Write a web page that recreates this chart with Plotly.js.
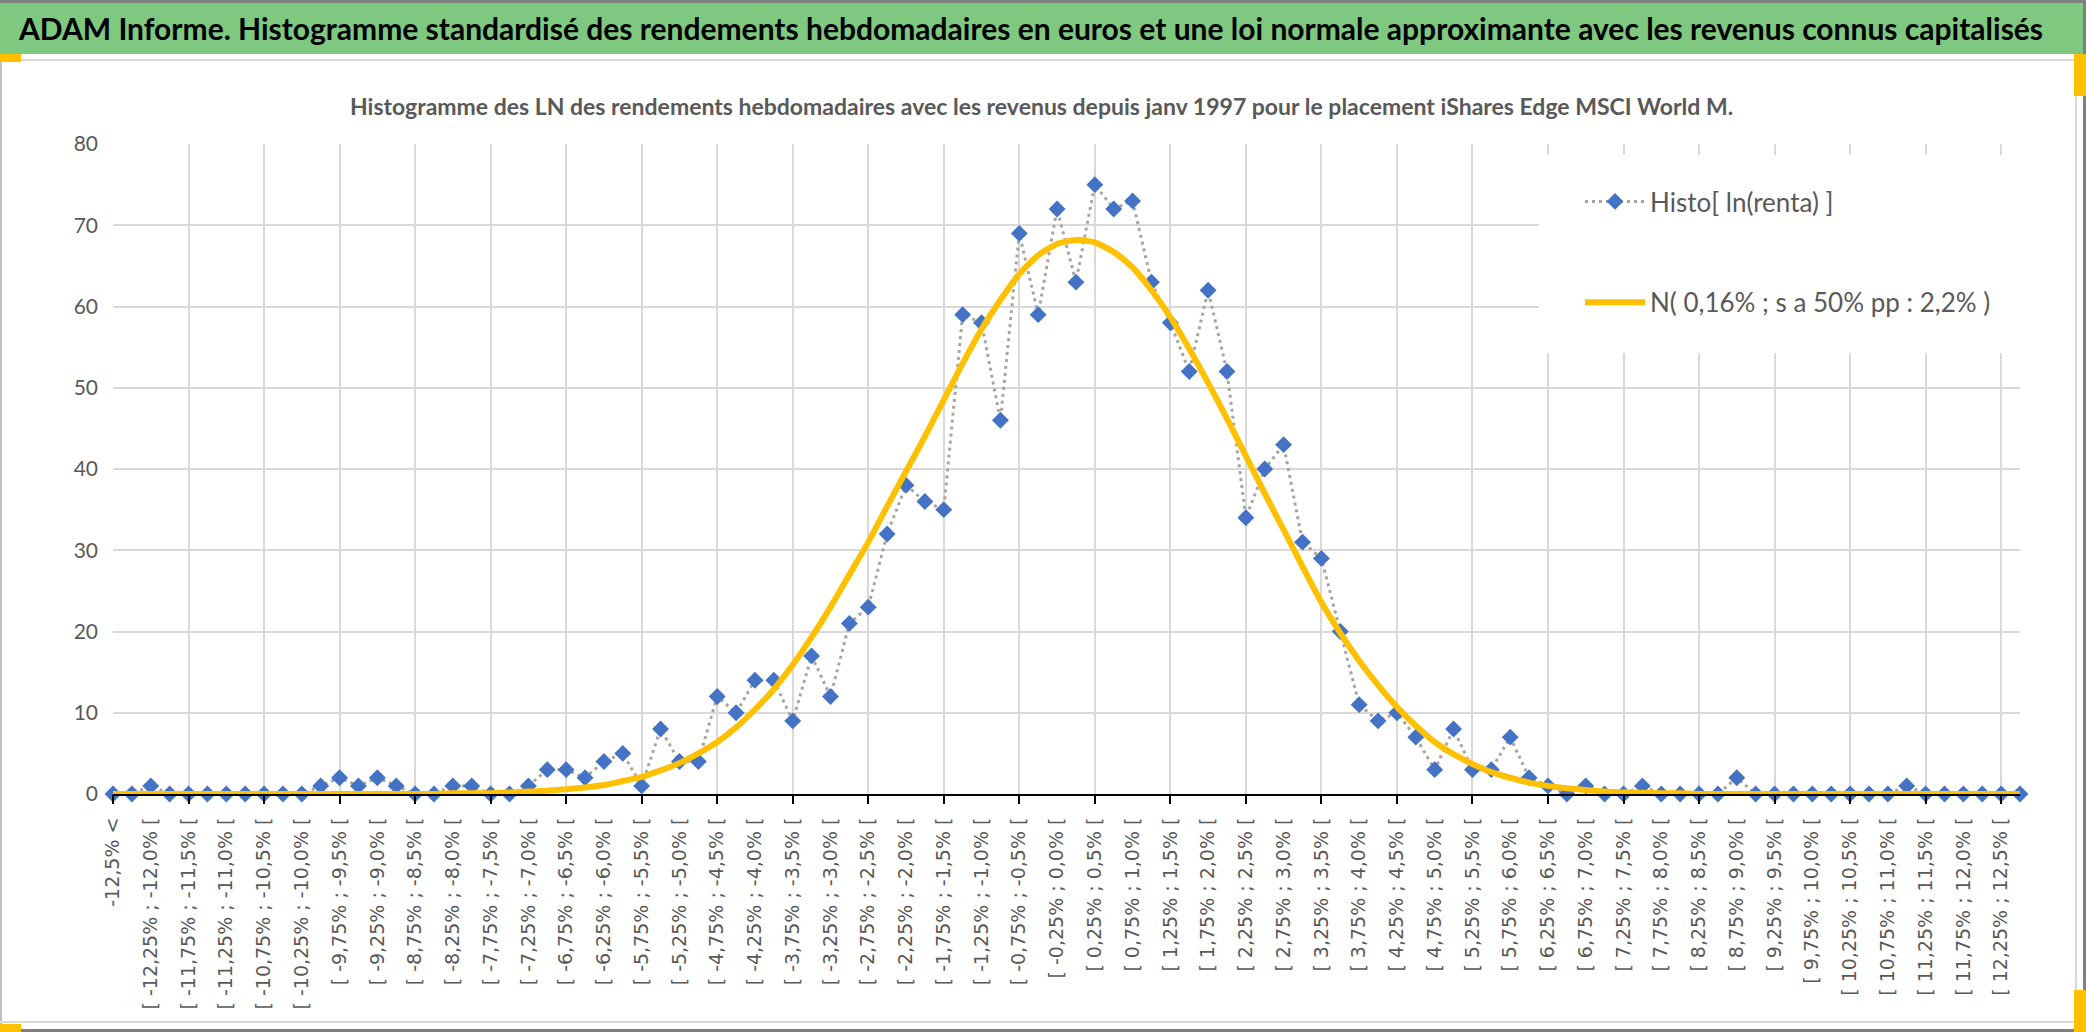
<!DOCTYPE html>
<html>
<head>
<meta charset="utf-8">
<script src="https://cdn.plot.ly/plotly-3.0.1.min.js"></script>
<style>
  html, body { margin: 0; padding: 0; background: #ffffff; }
  #chart { width: 2086px; height: 1032px; }
</style>
</head>
<body>
<div id="chart"></div>
<script>
// ---- Data ----
const categories = [
  "-12,5% <",
  "[ -12,5% ; -12,25% [", "[ -12,25% ; -12,0% [", "[ -12,0% ; -11,75% [", "[ -11,75% ; -11,5% [",
  "[ -11,5% ; -11,25% [", "[ -11,25% ; -11,0% [", "[ -11,0% ; -10,75% [", "[ -10,75% ; -10,5% [",
  "[ -10,5% ; -10,25% [", "[ -10,25% ; -10,0% [", "[ -10,0% ; -9,75% [", "[ -9,75% ; -9,5% [",
  "[ -9,5% ; -9,25% [", "[ -9,25% ; -9,0% [", "[ -9,0% ; -8,75% [", "[ -8,75% ; -8,5% [",
  "[ -8,5% ; -8,25% [", "[ -8,25% ; -8,0% [", "[ -8,0% ; -7,75% [", "[ -7,75% ; -7,5% [",
  "[ -7,5% ; -7,25% [", "[ -7,25% ; -7,0% [", "[ -7,0% ; -6,75% [", "[ -6,75% ; -6,5% [",
  "[ -6,5% ; -6,25% [", "[ -6,25% ; -6,0% [", "[ -6,0% ; -5,75% [", "[ -5,75% ; -5,5% [",
  "[ -5,5% ; -5,25% [", "[ -5,25% ; -5,0% [", "[ -5,0% ; -4,75% [", "[ -4,75% ; -4,5% [",
  "[ -4,5% ; -4,25% [", "[ -4,25% ; -4,0% [", "[ -4,0% ; -3,75% [", "[ -3,75% ; -3,5% [",
  "[ -3,5% ; -3,25% [", "[ -3,25% ; -3,0% [", "[ -3,0% ; -2,75% [", "[ -2,75% ; -2,5% [",
  "[ -2,5% ; -2,25% [", "[ -2,25% ; -2,0% [", "[ -2,0% ; -1,75% [", "[ -1,75% ; -1,5% [",
  "[ -1,5% ; -1,25% [", "[ -1,25% ; -1,0% [", "[ -1,0% ; -0,75% [", "[ -0,75% ; -0,5% [",
  "[ -0,5% ; -0,25% [", "[ -0,25% ; 0,0% [", "[ 0,0% ; 0,25% [", "[ 0,25% ; 0,5% [",
  "[ 0,5% ; 0,75% [", "[ 0,75% ; 1,0% [", "[ 1,0% ; 1,25% [", "[ 1,25% ; 1,5% [",
  "[ 1,5% ; 1,75% [", "[ 1,75% ; 2,0% [", "[ 2,0% ; 2,25% [", "[ 2,25% ; 2,5% [",
  "[ 2,5% ; 2,75% [", "[ 2,75% ; 3,0% [", "[ 3,0% ; 3,25% [", "[ 3,25% ; 3,5% [",
  "[ 3,5% ; 3,75% [", "[ 3,75% ; 4,0% [", "[ 4,0% ; 4,25% [", "[ 4,25% ; 4,5% [",
  "[ 4,5% ; 4,75% [", "[ 4,75% ; 5,0% [", "[ 5,0% ; 5,25% [", "[ 5,25% ; 5,5% [",
  "[ 5,5% ; 5,75% [", "[ 5,75% ; 6,0% [", "[ 6,0% ; 6,25% [", "[ 6,25% ; 6,5% [",
  "[ 6,5% ; 6,75% [", "[ 6,75% ; 7,0% [", "[ 7,0% ; 7,25% [", "[ 7,25% ; 7,5% [",
  "[ 7,5% ; 7,75% [", "[ 7,75% ; 8,0% [", "[ 8,0% ; 8,25% [", "[ 8,25% ; 8,5% [",
  "[ 8,5% ; 8,75% [", "[ 8,75% ; 9,0% [", "[ 9,0% ; 9,25% [", "[ 9,25% ; 9,5% [",
  "[ 9,5% ; 9,75% [", "[ 9,75% ; 10,0% [", "[ 10,0% ; 10,25% [", "[ 10,25% ; 10,5% [",
  "[ 10,5% ; 10,75% [", "[ 10,75% ; 11,0% [", "[ 11,0% ; 11,25% [", "[ 11,25% ; 11,5% [",
  "[ 11,5% ; 11,75% [", "[ 11,75% ; 12,0% [", "[ 12,0% ; 12,25% [", "[ 12,25% ; 12,5% [",
  "12,5% <="
];

const histoCounts = [
  0, 0, 1, 0, 0, 0, 0, 0, 0, 0,
  0, 1, 2, 1, 2, 1, 0, 0, 1, 1,
  0, 0, 1, 3, 3, 2, 4, 5, 1, 8,
  4, 4, 12, 10, 14, 14, 9, 17, 12, 21,
  23, 32, 38, 36, 35, 59, 58, 46, 69, 59,
  72, 63, 75, 72, 73, 63, 58, 52, 62, 52,
  34, 40, 43, 31, 29, 20, 11, 9, 10, 7,
  3, 8, 3, 3, 7, 2, 1, 0, 1, 0,
  0, 1, 0, 0, 0, 0, 2, 0, 0, 0,
  0, 0, 0, 0, 0, 1, 0, 0, 0, 0,
  0, 0
];

const normalCurve = [
  0, 0, 0, 0, 0, 0, 0, 0, 0, 0,
  0, 0, 0, 0, 0, 0, 0, 0, 0.1, 0.1,
  0.1, 0.2, 0.3, 0.4, 0.6, 0.8, 1.1, 1.6, 2.1, 2.9,
  3.8, 5.0, 6.4, 8.2, 10.4, 12.9, 15.9, 19.3, 23.0, 27.0,
  31.0, 35.4, 39.7, 44.0, 48.5, 53.0, 57.2, 60.8, 64.0, 66.3,
  67.7, 68.2, 67.9, 66.7, 64.8, 62.0, 58.7, 54.8, 50.6, 46.2,
  41.6, 37.0, 32.5, 28.0, 23.6, 19.8, 16.4, 13.4, 10.7, 8.4,
  6.4, 4.9, 3.7, 2.7, 2.0, 1.4, 1.0, 0.7, 0.5, 0.3,
  0.2, 0.15, 0.1, 0.1, 0, 0, 0, 0, 0, 0,
  0, 0, 0, 0, 0, 0, 0, 0, 0, 0,
  0, 0
];

const seriesNames = ["Histo[ ln(renta) ]", "N( 0,16% ; s a 50% pp : 2,2% )"];
const mainTitle = "ADAM Informe. Histogramme standardisé des rendements hebdomadaires en euros et une loi normale approximante avec les revenus connus capitalisés";
const chartTitle = "Histogramme des LN des rendements hebdomadaires avec les revenus depuis janv 1997 pour le placement iShares Edge MSCI World M.";
const yTicks = [0, 10, 20, 30, 40, 50, 60, 70, 80];

// ---- Derived (positions by index on the category axis) ----
const xIdx = categories.map((_, i) => i);
const labelVals = xIdx.filter(i => i % 2 === 0);
const labelText = labelVals.map(i => categories[i]);

// ---- Page geometry (pixels) ----
const W = 2086, H = 1032;
const L = 113, R = 2020, T = 144, B = 794;
const px = v => (v - L) / (R - L);
const py = v => (B - v) / (B - T);

const sans = "Lato, Liberation Sans, sans-serif";
const grey = "#595959";

const traces = [
  {
    type: "scatter", mode: "lines+markers", name: seriesNames[0],
    x: xIdx, y: histoCounts, customdata: categories,
    line: { color: "#A5A5A5", width: 3, dash: "3px,4px" },
    marker: { symbol: "diamond", size: 13, color: "#4472C4", line: { width: 0 } },
    cliponaxis: false, legendgroup: "a",
    hovertemplate: "%{customdata}: %{y}<extra></extra>"
  },
  {
    type: "scatter", mode: "lines", name: seriesNames[1],
    x: xIdx, y: normalCurve, customdata: categories, xaxis: "x2",
    line: { color: "#FFC000", width: 6, shape: "spline", smoothing: 0.6 },
    cliponaxis: false, legendgroup: "b",
    hovertemplate: "%{customdata}: %{y}<extra></extra>"
  }
];

function rect(x0, y0, x1, y1, fill, layer) {
  return { type: "rect", xref: "paper", yref: "paper",
           x0: px(x0), x1: px(x1), y0: py(y1), y1: py(y0),
           fillcolor: fill, line: { width: 0 }, layer: layer || "above" };
}

const shapes = [
  rect(0, 0, W, 3, "#7F7F7F"),             // top edge
  rect(0, 3, W, 54, "#7EC87F"),            // green banner
  rect(0, 59, W, 61, "#D9D9D9"),           // chart-area top border
  rect(0, 61, 2, 1024, "#BFBFBF"),         // left border
  rect(2075, 54, 2077, 1024, "#D9D9D9"),   // right inner border
  rect(2083, 0, W, H, "#7F7F7F"),          // right edge
  rect(0, 1021, W, 1023, "#D9D9D9"),       // bottom border
  rect(0, 1029, W, H, "#7F7F7F"),          // bottom edge
  rect(0, 54, 21, 62, "#FFC000"),          // handles
  rect(2074, 54, W, 96, "#FFC000"),
  rect(2074, 990, W, H, "#FFC000"),
  rect(0, 1024, 21, H, "#FFC000"),
  rect(1539, 155, 2021, 353, "#FFFFFF")    // legend background
];

const layout = {
  width: W, height: H,
  margin: { l: L, r: W - R, t: T, b: H - B, pad: 0 },
  paper_bgcolor: "#FFFFFF", plot_bgcolor: "rgba(0,0,0,0)",
  showlegend: true,
  title: {
    text: "<b>" + mainTitle + "</b>",
    xref: "container", yref: "container",
    x: 1031 / W, y: 1 - 29 / H, xanchor: "center", yanchor: "middle",
    font: { family: sans, size: 30, color: "#000000" }
  },
  annotations: [{
    text: "<b>" + chartTitle + "</b>", showarrow: false,
    xref: "paper", yref: "paper", x: px(1041), y: py(106),
    xanchor: "center", yanchor: "middle",
    font: { family: sans, size: 23, color: grey }
  }],
  xaxis: {
    range: [0, xIdx.length - 1], showgrid: false, zeroline: false,
    tickmode: "array", tickvals: labelVals, ticktext: labelText,
    tickangle: -90, ticks: "", ticklabelstandoff: 14,
    tickfont: { family: "DejaVu Sans, Verdana, sans-serif", size: 19, color: grey },
    showline: true, linecolor: "#000000", linewidth: 2,
    fixedrange: true
  },
  xaxis2: {
    overlaying: "x", anchor: "y", range: [0, xIdx.length - 1],
    tickmode: "linear", tick0: 0, dtick: 4,
    showgrid: true, gridcolor: "#D9D9D9", gridwidth: 1.5,
    ticks: "outside", ticklen: 9, tickwidth: 2, tickcolor: "#000000",
    showticklabels: false, zeroline: false, showline: false, fixedrange: true
  },
  yaxis: {
    range: [0, 80], tickmode: "array", tickvals: yTicks,
    showgrid: true, gridcolor: "#D9D9D9", gridwidth: 1.5,
    zeroline: false, showline: false, ticks: "", ticklabelstandoff: 14,
    tickfont: { family: sans, size: 21, color: grey },
    fixedrange: true
  },
  legend: {
    x: px(1580), y: py(178), xanchor: "left", yanchor: "top",
    bgcolor: "rgba(0,0,0,0)", borderwidth: 0,
    font: { family: sans, size: 26, color: grey },
    tracegroupgap: 64, itemwidth: 60, traceorder: "grouped"
  },
  shapes: shapes
};

Plotly.newPlot("chart", traces, layout, { displayModeBar: false });
</script>
</body>
</html>
